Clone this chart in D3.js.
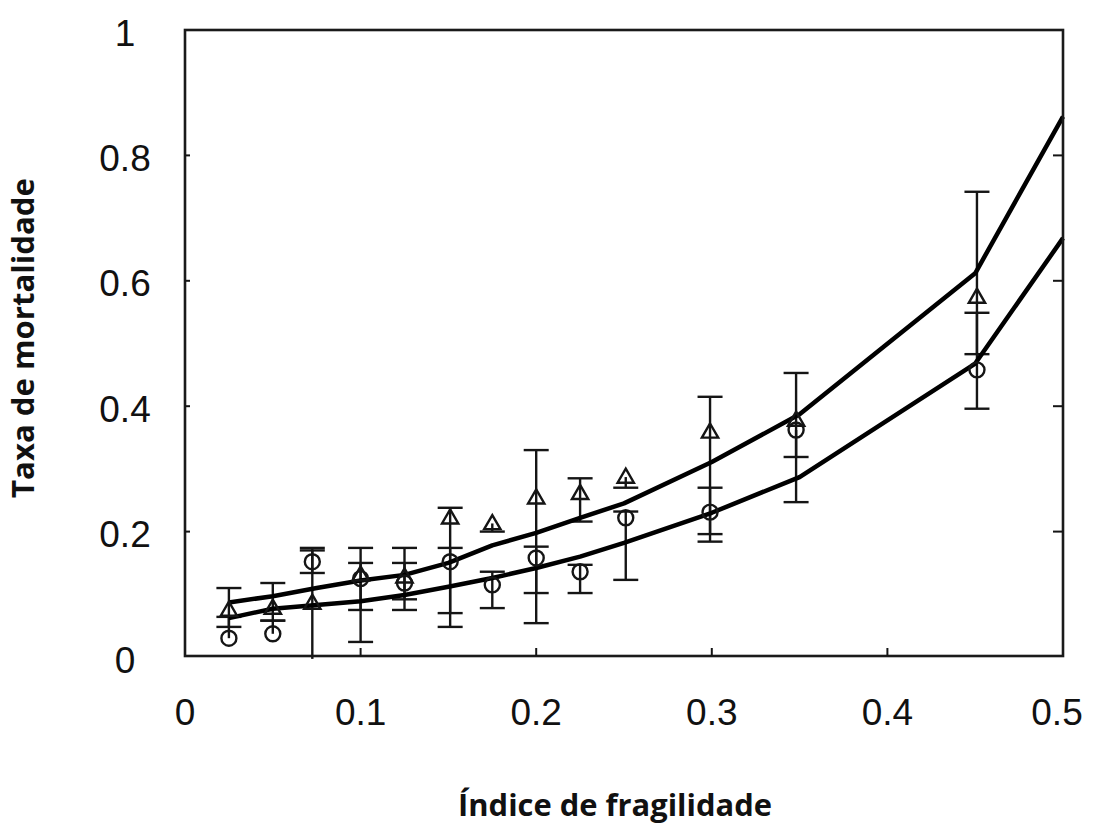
<!DOCTYPE html>
<html><head><meta charset="utf-8">
<script src="https://cdn.jsdelivr.net/npm/d3@7"></script>
<style>body{margin:0;background:#fff}svg{display:block}</style>
</head><body>
<svg id="c" width="1096" height="827"></svg>
<script>
// ---- data ----
const xTicks = [0, 0.1, 0.2, 0.3, 0.4, 0.5];
const yTicks = [0, 0.2, 0.4, 0.6, 0.8, 1];
const xTickLabels = ["0", "0.1", "0.2", "0.3", "0.4", "0.5"];
const yTickLabels = ["0", "0.2", "0.4", "0.6", "0.8", "1"];

// fitted curves
const curveX = [0.025, 0.05, 0.075, 0.1, 0.125, 0.15, 0.175, 0.2, 0.225, 0.25, 0.3, 0.35, 0.45, 0.5];
const curveUpper = [0.087, 0.097, 0.110, 0.122, 0.131, 0.150, 0.178, 0.198, 0.222, 0.245, 0.311, 0.387, 0.612, 0.862];
const curveLower = [0.062, 0.077, 0.083, 0.089, 0.099, 0.112, 0.126, 0.142, 0.160, 0.182, 0.230, 0.287, 0.468, 0.668];

// observed points
const pointX = [0.025, 0.05, 0.0725, 0.1, 0.125, 0.151, 0.175, 0.2, 0.225, 0.251, 0.299, 0.348, 0.451];
const triY  = [0.075, 0.078, 0.086, 0.131, 0.128, 0.222, 0.213, 0.254, 0.261, 0.287, 0.359, 0.378, 0.574];
const triLo = [0.048, 0.058, -0.003, 0.075, 0.092, 0.070, 0.200, 0.102, 0.216, 0.270, 0.196, 0.319, 0.483];
const triHi = [0.110, 0.118, 0.170, 0.174, 0.174, 0.238, null, 0.330, 0.285, null, 0.415, 0.453, 0.742];
const cirY  = [0.030, 0.037, 0.152, 0.125, 0.118, 0.152, 0.115, 0.158, 0.136, 0.222, 0.231, 0.362, 0.458];
const cirLo = [null, null, 0.134, 0.024, 0.075, 0.048, 0.078, 0.054, 0.102, 0.123, 0.184, 0.247, 0.396];
const cirHi = [0.064, 0.058, 0.174, 0.150, 0.150, 0.174, 0.136, 0.176, 0.147, 0.232, 0.270, null, 0.549];

const xTitle = "Índice de fragilidade";
const yTitle = "Taxa de mortalidade";

// ---- drawing ----
const svg = d3.select("#c");
const L = 185, R = 1063, T = 30, B = 657;
const x = d3.scaleLinear().domain([0, 0.5]).range([L, R]);
const y = d3.scaleLinear().domain([0, 1]).range([B, T]);
const ink = "#151515";

// error bars
function drawErr(ys, los, his, cls) {
  const g = svg.append("g").attr("class", cls).attr("stroke", ink).attr("stroke-width", 2.4).attr("fill", "none");
  pointX.forEach((px, i) => {
    const lo = los[i] == null ? ys[i] : los[i];
    const hi = his[i] == null ? ys[i] : his[i];
    g.append("line").attr("x1", x(px)).attr("x2", x(px)).attr("y1", y(lo)).attr("y2", y(hi));
    [los[i], his[i]].forEach(v => {
      if (v == null || v < 0) return;
      g.append("line").attr("x1", x(px) - 12.5).attr("x2", x(px) + 12.5).attr("y1", y(v)).attr("y2", y(v));
    });
  });
}
drawErr(triY, triLo, triHi, "err-tri");
drawErr(cirY, cirLo, cirHi, "err-cir");

// curves
const line = d3.line().x(d => x(d[0])).y(d => y(d[1]));
[curveUpper, curveLower].forEach(vals => {
  svg.append("path").datum(curveX.map((cx, i) => [cx, vals[i]]))
    .attr("d", line).attr("fill", "none").attr("stroke", "#000").attr("stroke-width", 4.5)
    .attr("stroke-linejoin", "round");
});

// markers
const tri = d3.symbol().type(d3.symbolTriangle).size(115);
svg.append("g").selectAll("path").data(pointX.map((px, i) => [px, triY[i]])).join("path")
  .attr("d", tri).attr("transform", d => `translate(${x(d[0])},${y(d[1]) + 1})`)
  .attr("fill", "none").attr("stroke", ink).attr("stroke-width", 2.4);
svg.append("g").selectAll("circle").data(pointX.map((px, i) => [px, cirY[i]])).join("circle")
  .attr("cx", d => x(d[0])).attr("cy", d => y(d[1])).attr("r", 7.5)
  .attr("fill", "none").attr("stroke", ink).attr("stroke-width", 2.4);

// frame
svg.append("rect").attr("x", L).attr("y", T).attr("width", R - L).attr("height", 656 - T)
  .attr("fill", "none").attr("stroke", "#1a1a1a").attr("stroke-width", 2.6);

// ticks (inward)
const tg = svg.append("g").attr("stroke", ink).attr("stroke-width", 2);
xTicks.slice(1, -1).forEach(t => tg.append("line").attr("x1", x(t)).attr("x2", x(t)).attr("y1", 656).attr("y2", 648));
yTicks.slice(1, -1).forEach(t => {
  tg.append("line").attr("x1", L).attr("x2", L + 5).attr("y1", y(t)).attr("y2", y(t));
  tg.append("line").attr("x1", R).attr("x2", R - 10).attr("y1", y(t)).attr("y2", y(t));
});

// tick labels
const lab = svg.append("g").attr("font-family", "'Liberation Sans', Arial, sans-serif")
  .attr("font-size", 37).attr("fill", "#111");
xTicks.forEach((t, i) => lab.append("text").attr("x", x(t) - (t === 0.5 ? 6 : 0)).attr("y", 725)
  .attr("text-anchor", "middle").text(xTickLabels[i]));
yTicks.forEach((t, i) => lab.append("text").attr("x", 125).attr("y", y(t) + 3)
  .attr("text-anchor", "middle").attr("dominant-baseline", "central").text(yTickLabels[i]));

// axis titles
function fitText(sel, w) {
  const len = sel.node().getComputedTextLength();
  sel.attr("font-size", 20 * w / len);
}
const xt = svg.append("text").attr("x", 615).attr("y", 816).attr("text-anchor", "middle")
  .attr("font-family", "'Open Sans', sans-serif").attr("font-weight", 700).attr("font-size", 20)
  .attr("fill", "#111").text(xTitle);
fitText(xt, 314);
const yt = svg.append("text").attr("transform", "translate(34,338) rotate(-90)").attr("text-anchor", "middle")
  .attr("font-family", "'Open Sans', sans-serif").attr("font-weight", 700).attr("font-size", 20)
  .attr("fill", "#111").text(yTitle);
fitText(yt, 320);
</script>
</body></html>
